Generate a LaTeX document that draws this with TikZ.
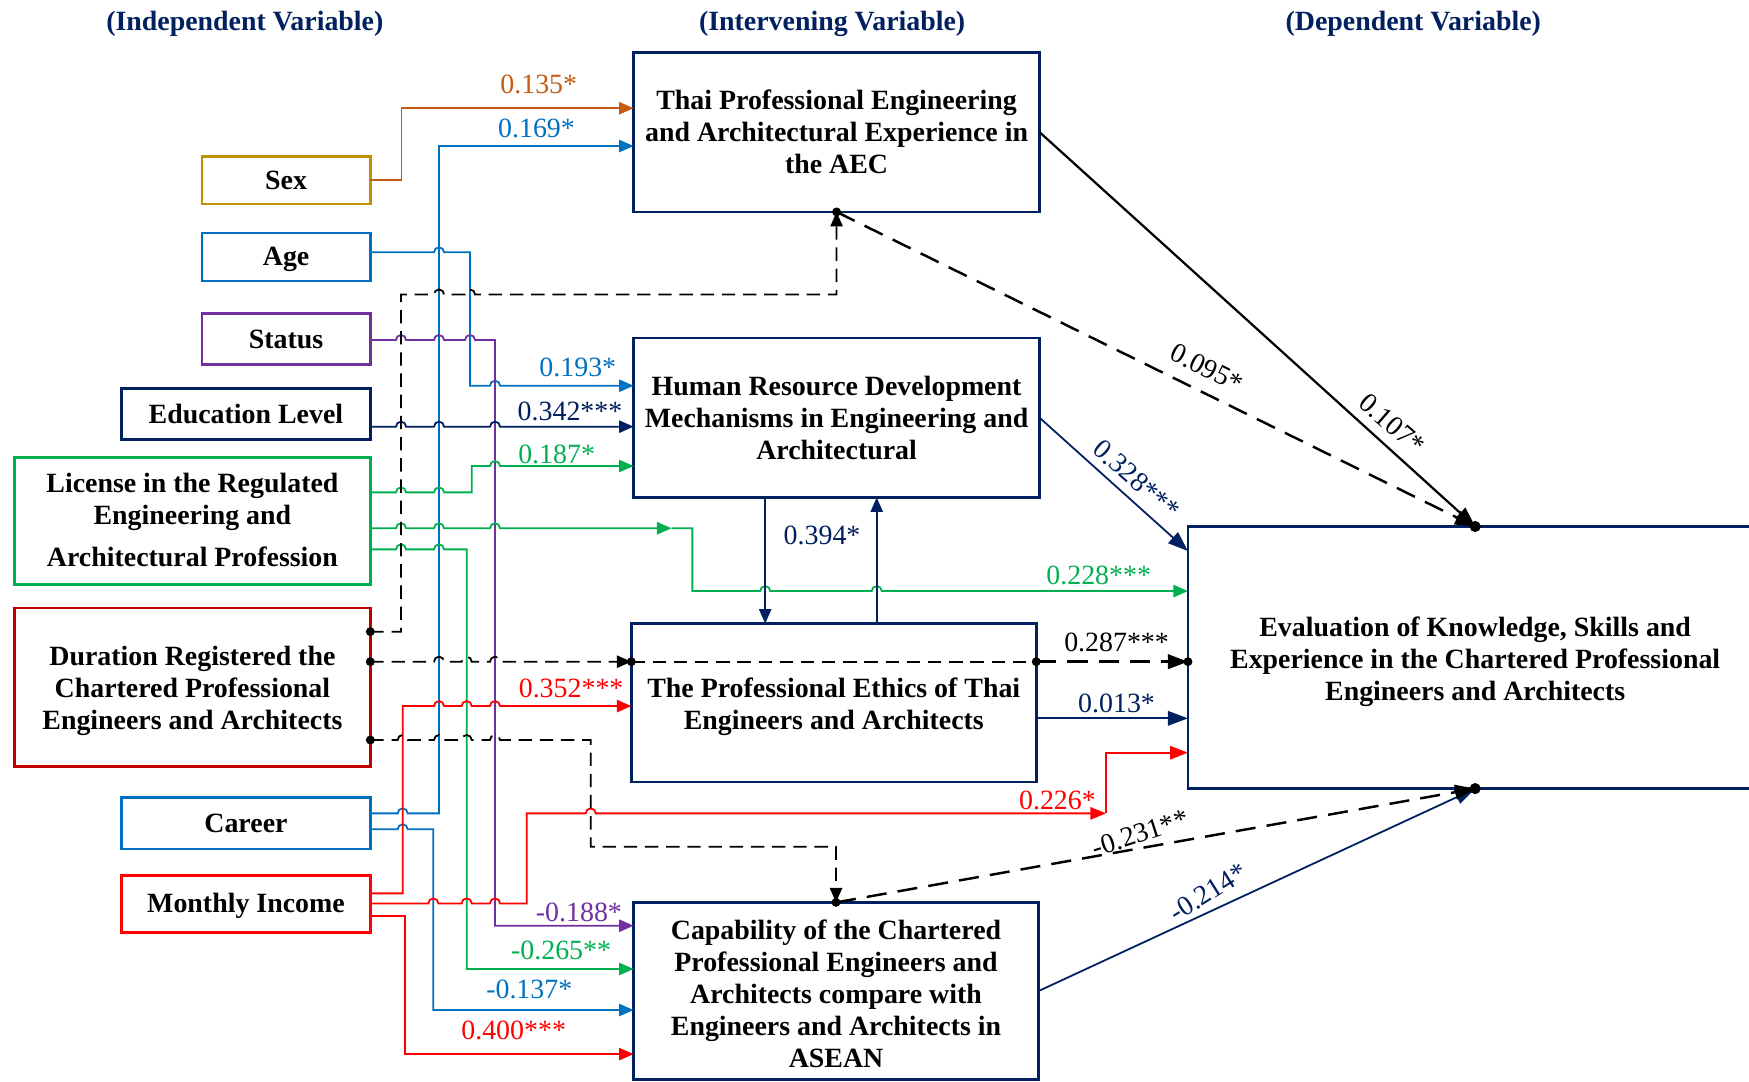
\documentclass[tikz,border=0pt]{standalone}
\usepackage{fontspec}
\setmainfont{Liberation Serif}
\usetikzlibrary{arrows.meta}
\definecolor{navy}{HTML}{002060}
\definecolor{cblue}{HTML}{0070C0}
\definecolor{cpurp}{HTML}{7030A0}
\definecolor{cgreen}{HTML}{00B050}
\definecolor{cred}{HTML}{FF0000}
\definecolor{cdred}{HTML}{C00000}
\definecolor{cgold}{HTML}{BF9000}
\definecolor{cbrown}{HTML}{C55A11}
\begin{document}
\begin{tikzpicture}[x=0.5pt,y=-0.5pt,
  every node/.style={font=\fontsize{12.5}{14.35}\selectfont},
  box/.style={draw, line width=1.2pt, inner sep=0pt, outer sep=0pt, align=center, font=\fontsize{12.5}{14.35}\selectfont\bfseries},
  btxt/.style={inner sep=0pt, align=center, font=\fontsize{12.5}{14.35}\selectfont\bfseries},
  hdr/.style={text=navy, font=\fontsize{12.5}{14.35}\selectfont\bfseries},
  conn/.style={line width=0.8pt},
  tip/.style={-{Triangle[length=6.5pt,width=5.5pt]}},
  bigtip/.style={-{Triangle[length=9pt,width=6.5pt]}},
  coef/.style={inner sep=0pt, anchor=center},
  hp/.style 2 args={insert path={-- ({#1-4.5},#2) arc[start angle=180,end angle=360,radius=4.5]}},
  dsh/.style={dash pattern=on 6pt off 3.5pt},
  bigdsh/.style={line width=1.1pt, dash pattern=on 9pt off 5pt},
]
\useasboundingbox (0,0) rectangle (1568,970);
\fill[white] (0,0) rectangle (1568,970);

% headers
\node[hdr] (h1) at (219.5,21.5) {(Independent Variable)};
\node[hdr] (h2) at (746,21.5) {(Intervening Variable)};
\node[hdr] (h3) at (1267,21.5) {(Dependent Variable)};

% independent variables
\node[box, draw=cgold, minimum width=75.5pt, minimum height=21.5pt] (sex) at (256.5,161.5) {Sex};
\node[box, draw=cblue, minimum width=75.5pt, minimum height=21.5pt] (age) at (256.5,230.5) {};
\node[btxt] (aget) at ([yshift=-1pt]age.center) {Age};
\node[box, draw=cpurp, minimum width=75.5pt, minimum height=23pt] (status) at (256.5,304) {Status};
\node[box, draw=navy, minimum width=111.5pt, minimum height=23pt] (edu) at (220.5,371) {Education Level};
\node[box, draw=cgreen, minimum width=159.5pt, minimum height=57pt] (lic) at (172.5,467) {};
\node[btxt] (lict) at ([yshift=0.5pt]lic.center) {License in the Regulated\\ Engineering and\\[4.5pt] Architectural Profession};
\node[box, draw=cdred, minimum width=159.5pt, minimum height=71pt] (dur) at (172.5,616) {};
\node[btxt] (durt) at ([yshift=-1.75pt]dur.center) {Duration Registered the\\ Chartered Professional\\ Engineers and Architects};
\node[box, draw=cblue, minimum width=111.5pt, minimum height=23pt] (career) at (220.5,738) {Career};
\node[box, draw=cred, minimum width=111.5pt, minimum height=25.5pt] (income) at (220.5,810.5) {};
\node[btxt] (incomet) at ([yshift=-1pt]income.center) {Monthly Income};

% intervening variables
\node[box, draw=navy, minimum width=182pt, minimum height=71.5pt] (tpe) at (750,118.5) {Thai Professional Engineering\\ and Architectural Experience in\\ the AEC};
\node[box, draw=navy, minimum width=182pt, minimum height=71.5pt] (hrd) at (750,374.5) {Human Resource Development\\ Mechanisms in Engineering and\\ Architectural};
\node[box, draw=navy, minimum width=181.5pt, minimum height=71pt] (eth) at (747.5,630) {};
\node[btxt] (etht) at ([yshift=-2pt]eth.center) {The Professional Ethics of Thai\\ Engineers and Architects};
\node[box, draw=navy, minimum width=181.5pt, minimum height=79.5pt] (cap) at (749.5,888.5) {};
\node[btxt] (capt) at ([yshift=-1.25pt]cap.center) {Capability of the Chartered\\ Professional Engineers and\\ Architects compare with\\ Engineers and Architects in\\ ASEAN};

% dependent variable
\node[box, draw=navy, minimum width=257.5pt, minimum height=117.5pt] (eval) at (1322.5,589.5) {};
\node[btxt] (evalt) at ([yshift=-2pt]eval.center) {Evaluation of Knowledge, Skills and\\ Experience in the Chartered Professional\\ Engineers and Architects};

% ---- coloured paths from the independent variables
\draw[conn,cbrown,tip] (sex.east) -- (360,161.5) -- (360,97) -- (tpe.west |- 0,97);
\draw[conn,cblue,tip] (career.east |- 0,729.2) [hp={361}{729.2}] -- (393.6,729.2) -- (393.6,130.9) -- (tpe.west |- 0,130.9);
\draw[conn,cblue,tip] (career.east |- 0,743.5) [hp={361}{743.5}] -- (388.5,743.5) -- (388.5,905.5) -- (cap.west |- 0,905.5);
\draw[conn,cblue,tip] (age.east |- 0,226.2) [hp={393.6}{226.2}] -- (421.4,226.2) -- (421.4,345.8) [hp={443.8}{345.8}] -- (hrd.west |- 0,345.8);
\draw[conn,cpurp,tip] (status.east |- 0,304.8) [hp={359.5}{304.8}] [hp={393.6}{304.8}] [hp={421.4}{304.8}] -- (443.8,304.8) -- (443.8,829.9) -- (cap.west |- 0,829.9);
\draw[conn,navy,tip] (edu.east |- 0,382.5) [hp={359.5}{382.5}] [hp={393.6}{382.5}] [hp={443.8}{382.5}] -- (hrd.west |- 0,382.5);
\draw[conn,cgreen,tip] (lic.east |- 0,441.4) [hp={359.5}{441.4}] [hp={393.6}{441.4}] -- (423,441.4) -- (423,417.8) [hp={443.8}{417.8}] -- (hrd.west |- 0,417.8);
\coordinate (g2m) at (602,473.6);
\draw[conn,cgreen,tip] (lic.east |- 0,473.6) [hp={359.5}{473.6}] [hp={393.6}{473.6}] [hp={443.8}{473.6}] -- (g2m);
\draw[conn,cgreen,tip] (g2m) -- (620.7,473.6) -- (620.7,529.9) [hp={686}{529.9}] [hp={786}{529.9}] -- (eval.west |- 0,529.9);
\draw[conn,cgreen,tip] (lic.east |- 0,492.5) [hp={359.5}{492.5}] [hp={393.6}{492.5}] -- (418.4,492.5) -- (418.4,868.7) -- (cap.west |- 0,868.7);

% red income lines
\draw[conn,cred,tip] (income.east |- 0,800.9) -- (361,800.9) -- (361,633) [hp={393.6}{633}] [hp={418.4}{633}] [hp={443.8}{633}] -- (eth.west |- 0,633);
\coordinate (r2m) at (991.6,729.2);
\draw[conn,cred,-{Triangle[length=7pt,width=5.5pt]}] (income.east |- 0,809.9) [hp={388.5}{809.9}] [hp={418.4}{809.9}] [hp={443.8}{809.9}] -- (472.2,809.9) -- (472.2,729.2) [hp={529.6}{729.2}] -- (r2m);
\draw[conn,cred,-{Triangle[length=8pt,width=6pt]}] (r2m) -- (991.6,674.8) -- (eval.west |- 0,674.8);
\draw[conn,cred,tip] (income.east |- 0,820.9) -- (363,820.9) -- (363,945) -- (cap.west |- 0,945);

% dashed duration lines
\draw[conn,dsh,tip] (dur.east |- 0,566.3) -- (359.5,566.3) -- (359.5,264) [hp={393.6}{264}] [hp={421.4}{264}] -- (750,264) -- (tpe.south);
\draw[conn,dsh,tip] (dur.east |- 0,593.2) [hp={393.6}{593.2}] [hp={418.4}{593.2}] [hp={443.8}{593.2}] -- (eth.west |- 0,593.2);
\draw[conn,dsh] (eth.west |- 0,593.2) -- (eth.east |- 0,593.2);
\draw[bigdsh,bigtip] (eth.east |- 0,593.2) -- (eval.west |- 0,593.2);
\draw[conn,dsh,tip] (dur.east |- 0,663.4) [hp={361}{663.4}] [hp={393.6}{663.4}] [hp={418.4}{663.4}] [hp={443.8}{663.4}] -- (529.6,663.4) -- (529.6,759.1) -- (cap.north |- 0,759.1) -- (cap.north);

% intervening to dependent
\draw[line width=1pt,bigtip] (tpe.east) -- (eval.north);
\draw[bigdsh,bigtip] (tpe.south) -- (eval.north);
\draw[conn,navy,bigtip] (hrd.east) -- (eval.west |- 0,494);
\draw[conn,navy,tip] (hrd.south -| 686,0) -- (eth.north -| 686,0);
\draw[conn,navy,tip] (eth.north -| 786,0) -- (hrd.south -| 786,0);
\draw[conn,navy,bigtip] (eth.east |- 0,644) -- (eval.west |- 0,644);
\draw[conn,navy,bigtip] (cap.east) -- (eval.south);
\draw[bigdsh,bigtip] (cap.north) -- (eval.south);

% dots
\foreach \p in {(dur.east |- 0,566.3),(dur.east |- 0,593.2),(dur.east |- 0,663.4),(eth.west |- 0,593.2),(eth.east |- 0,593.2),(eval.west |- 0,593.2),(tpe.south),(cap.north)}
  \fill \p circle[radius=2pt];
\foreach \p in {(eval.north),(eval.south)}
  \fill \p circle[radius=2.5pt];

% coefficients
\node[coef,text=cbrown] (l135) at (483,76) {0.135*};
\node[coef,text=cblue] (l169) at (481,115) {0.169*};
\node[coef,text=cblue] (l193) at (518,329) {0.193*};
\node[coef,text=navy] (l342) at (511,369) {0.342***};
\node[coef,text=cgreen] (l187) at (499,407) {0.187*};
\node[coef,text=cgreen] (l228) at (985,515.5) {0.228***};
\node[coef,text=navy] (l394) at (737,480) {0.394*};
\node[coef] (l287) at (1001,576) {0.287***};
\node[coef,text=navy] (l013) at (1001,631) {0.013*};
\node[coef,text=cred] (l352) at (512,617) {0.352***};
\node[coef,text=cred] (l226) at (948,718) {0.226*};
\node[coef,text=cpurp] (l188) at (519,818) {-0.188*};
\node[coef,text=cgreen] (l265) at (503,852) {-0.265**};
\node[coef,text=cblue] (l137) at (474.5,887) {-0.137*};
\node[coef,text=cred] (l400) at (460.5,924) {0.400***};
\node[coef,rotate=-27] (l095) at (1082,330) {0.095*};
\node[coef,rotate=-41] (l107) at (1248,380) {0.107*};
\node[coef,text=navy,rotate=-41.5] (l328) at (1019,430) {0.328***};
\node[coef,rotate=18] (l231) at (1022,747) {-0.231**};
\node[coef,text=navy,rotate=32] (l214) at (1083,800) {-0.214*};
\end{tikzpicture}
\end{document}
